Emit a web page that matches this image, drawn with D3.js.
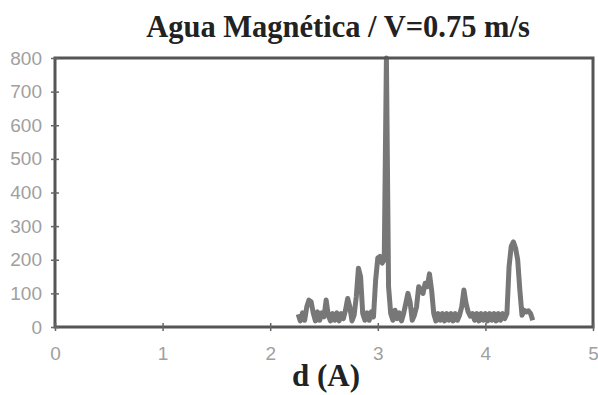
<!DOCTYPE html>
<html><head><meta charset="utf-8">
<script src="https://cdn.jsdelivr.net/npm/d3@7"></script>
<style>body{margin:0;background:#fff}</style>
</head><body>
<svg id="c" width="598" height="395"></svg>
<script>
const title = "Agua Magnética / V=0.75 m/s";
const xLabel = "d (A)";
const xTicks = [0,1,2,3,4,5];
const yTicks = [0,100,200,300,400,500,600,700,800];
const yTickLabels = ["0","100","200","300","400","500","600","700","800"];
const dValues = [2.26,2.28,2.30,2.32,2.34,2.36,2.38,2.40,2.42,2.44,2.46,2.48,2.50,2.52,2.54,2.56,2.58,2.60,2.62,2.64,2.66,2.68,2.70,2.72,2.74,2.76,2.78,2.80,2.82,2.84,2.86,2.88,2.90,2.92,2.94,2.96,2.98,3.00,3.02,3.04,3.06,3.08,3.10,3.12,3.14,3.16,3.18,3.20,3.22,3.24,3.26,3.28,3.30,3.32,3.34,3.36,3.38,3.40,3.42,3.44,3.46,3.48,3.50,3.52,3.54,3.56,3.58,3.60,3.62,3.64,3.66,3.68,3.70,3.72,3.74,3.76,3.78,3.80,3.82,3.84,3.86,3.88,3.90,3.92,3.94,3.96,3.98,4.00,4.02,4.04,4.06,4.08,4.10,4.12,4.14,4.16,4.18,4.20,4.22,4.24,4.26,4.28,4.30,4.32,4.34,4.36,4.38,4.40,4.42,4.44];
const intensity = [38,18,42,20,60,80,75,42,18,45,20,42,30,80,35,18,40,20,42,18,40,25,50,85,60,18,35,90,175,150,40,20,42,20,45,30,140,205,210,190,200,800,120,40,20,50,25,42,18,40,70,100,75,20,35,60,120,110,100,130,120,158,110,40,18,40,20,40,18,40,20,40,18,40,20,35,60,110,70,45,32,40,20,40,18,40,20,40,18,40,20,40,18,40,20,40,25,40,180,240,253,235,200,110,35,50,45,48,40,20];

const svg = d3.select("#c");
const L = 55, R = 593, T = 58, B = 327;
const x = d3.scaleLinear().domain([0,5]).range([L,R]);
const y = d3.scaleLinear().domain([0,800]).range([B,T]);

svg.append("text").attr("x",338).attr("y",37).attr("text-anchor","middle")
  .attr("font-family","Liberation Serif, Times New Roman, serif").attr("font-weight","bold")
  .attr("font-size",30.5).attr("fill","#222").text(title);

const data = dValues.map((d,i)=>({d, v:intensity[i]}));
svg.append("path").datum(data)
  .attr("d", d3.line().x(p=>x(p.d)).y(p=>y(p.v)))
  .attr("fill","none").attr("stroke","#777").attr("stroke-width",5).attr("stroke-linejoin","round");

// frame
svg.append("rect").attr("x",L).attr("y",T).attr("width",R-L).attr("height",B-T)
  .attr("fill","none").attr("stroke","#555").attr("stroke-width",3);

const yAx = d3.axisLeft(y).tickValues(yTicks).tickFormat((d,i)=>yTickLabels[i]).tickSize(4).tickPadding(9);
const gy = svg.append("g").attr("transform",`translate(${L},0)`).call(yAx);
const xAx = d3.axisBottom(x).tickValues(xTicks).tickFormat(d3.format("d")).tickSize(4).tickPadding(16);
const gx = svg.append("g").attr("transform",`translate(0,${B})`).call(xAx);
[gy,gx].forEach(g=>{
  g.select(".domain").remove();
  g.selectAll("line").attr("stroke","#666").attr("stroke-width",1.5);
  g.selectAll("text").attr("font-family","Liberation Sans Narrow, Arial Narrow, Liberation Sans, sans-serif")
    .attr("font-size",19).attr("fill","#a0a0a0");
});
gy.selectAll(".tick line").attr("x2",4).attr("x1",-4);
gx.selectAll(".tick line").attr("y1",-4).attr("y2",4);

svg.append("text").attr("x",326).attr("y",386).attr("text-anchor","middle")
  .attr("font-family","Liberation Serif, Times New Roman, serif").attr("font-weight","bold")
  .attr("font-size",31).attr("fill","#222").text(xLabel);
</script>
</body></html>
